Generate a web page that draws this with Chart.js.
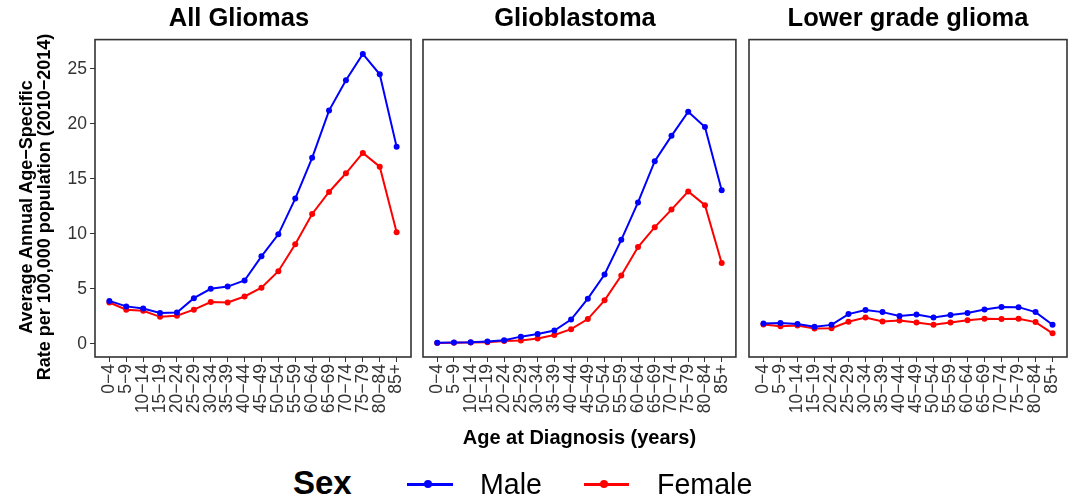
<!DOCTYPE html>
<html>
<head>
<meta charset="utf-8">
<script src="https://cdn.jsdelivr.net/npm/chart.js@4.4.1/dist/chart.umd.min.js"></script>
<style>
  html, body { margin: 0; padding: 0; background: #fff; }
  body { width: 1077px; height: 498px; position: relative; overflow: hidden; font-family: "Liberation Sans", Arial, sans-serif; }
  .pc { position: absolute; top: 0; }
  #ytitle { position: absolute; left: -165px; top: 189px; width: 400px; height: 36px; text-align: center;
            transform: rotate(-90deg); transform-origin: 200px 18px;
            font-weight: bold; font-size: 18px; line-height: 18px; color: #000; white-space: nowrap; }
  .leg { position: absolute; color: #000; white-space: nowrap; }
  .legline { position: absolute; height: 2.5px; }
  .legdot { position: absolute; width: 8px; height: 8px; border-radius: 50%; }
</style>
</head>
<body>
<canvas id="c1" class="pc" style="left:0px" width="420" height="460"></canvas>
<canvas id="c2" class="pc" style="left:405px" width="340" height="460"></canvas>
<canvas id="c3" class="pc" style="left:741px" width="336" height="460"></canvas>
<div id="ytitle">Average Annual Age−Specific<br>Rate per 100,000 population (2010−2014)</div>

<div class="leg" style="left:293px; top:466px; font-size:33px; line-height:33px; font-weight:bold;">Sex</div>
<div class="legline" style="left:407px; top:483px; width:46px; background:#0000ff;"></div>
<div class="legdot" style="left:424px; top:480px; background:#0000ff;"></div>
<div class="leg" style="left:480px; top:470px; font-size:28.6px; line-height:28.6px;">Male</div>
<div class="legline" style="left:584px; top:483px; width:45px; background:#ff0000;"></div>
<div class="legdot" style="left:600px; top:480px; background:#ff0000;"></div>
<div class="leg" style="left:657px; top:470px; font-size:28.6px; line-height:28.6px;">Female</div>

<script>
const ageGroups = ["0−4","5−9","10−14","15−19","20−24","25−29","30−34","35−39","40−44","45−49","50−54","55−59","60−64","65−69","70−74","75−79","80−84","85+"];
const panelTitles = ["All Gliomas", "Glioblastoma", "Lower grade glioma"];
const seriesNames = ["Male", "Female"];
const yTicks = [0, 5, 10, 15, 20, 25];

const maleAll   = [3.9, 3.4, 3.2, 2.8, 2.85, 4.15, 5.0, 5.2, 5.75, 7.95, 9.95, 13.2, 16.9, 21.2, 23.95, 26.35, 24.5, 17.9];
const femaleAll = [3.75, 3.1, 3.0, 2.45, 2.55, 3.1, 3.8, 3.75, 4.3, 5.1, 6.6, 9.05, 11.8, 13.8, 15.5, 17.35, 16.1, 10.15];
const maleGBM   = [0.1, 0.12, 0.15, 0.22, 0.32, 0.65, 0.9, 1.2, 2.2, 4.1, 6.3, 9.45, 12.85, 16.6, 18.9, 21.1, 19.7, 13.95];
const femaleGBM = [0.08, 0.09, 0.12, 0.15, 0.26, 0.3, 0.48, 0.8, 1.33, 2.25, 3.95, 6.2, 8.8, 10.6, 12.2, 13.85, 12.6, 7.35];
const maleLGG   = [1.85, 1.88, 1.8, 1.55, 1.72, 2.7, 3.08, 2.88, 2.52, 2.66, 2.4, 2.62, 2.8, 3.12, 3.35, 3.33, 2.88, 1.73];
const femaleLGG = [1.76, 1.6, 1.67, 1.38, 1.42, 2.0, 2.38, 2.03, 2.12, 1.94, 1.74, 1.94, 2.14, 2.27, 2.25, 2.27, 1.97, 0.95];

Chart.defaults.font.family = '"Liberation Sans", Arial, sans-serif';
Chart.defaults.color = '#333';

const X_MIN = -0.85, X_MAX = 17.85, Y_MIN = -1.2, Y_MAX = 27.65;
const TICK_FONT = 17.5;

const panelBox = {
  id: 'panelBox',
  afterDraw(chart) {
    const {ctx, chartArea: a} = chart;
    ctx.save();
    ctx.strokeStyle = '#333';
    ctx.lineWidth = 1.6;
    ctx.strokeRect(a.left, a.top, a.right - a.left, a.bottom - a.top);
    ctx.restore();
  }
};

function series(vals) { return vals.map((v, i) => ({x: i, y: v})); }

function makePanel(id, title, male, female, o) {
  const yScale = {
    min: Y_MIN, max: Y_MAX,
    afterBuildTicks: s => { s.ticks = yTicks.map(v => ({value: v})); }
  };
  if (o.yMode === 'labels') {
    Object.assign(yScale, {
      ticks: {color: '#333', font: {size: TICK_FONT}, padding: 3},
      grid: {drawOnChartArea: false, drawTicks: true, tickLength: 5, color: '#333', lineWidth: 1},
      border: {display: false},
      afterFit: s => { s.width = o.yWidth; }
    });
  } else if (o.yMode === 'blank') {
    Object.assign(yScale, {
      ticks: {display: false},
      grid: {display: false},
      border: {display: false},
      afterFit: s => { s.width = o.yWidth; }
    });
  } else {
    yScale.display = false;
  }
  const xScale = {
    type: 'linear', min: X_MIN, max: X_MAX,
    afterBuildTicks: s => { s.ticks = ageGroups.map((_, i) => ({value: i})); },
    ticks: {autoSkip: false, minRotation: 90, maxRotation: 90, padding: 2, color: '#333', font: {size: TICK_FONT},
            callback: (v, i) => ageGroups[i]},
    grid: {drawOnChartArea: false, drawTicks: true, tickLength: 5, color: '#333', lineWidth: 1},
    border: {display: false},
    title: o.xTitle ? {display: true, text: o.xTitle, color: '#000', font: {size: 20, weight: 'bold'}, padding: {top: 0, bottom: 10}} : {display: false},
    afterFit: s => { s.height = 103; }
  };
  new Chart(document.getElementById(id), {
    type: 'line',
    data: {
      datasets: [
        {label: seriesNames[0], data: series(male), borderColor: '#0000ff', backgroundColor: '#0000ff',
         borderWidth: 2, pointRadius: 3, pointBorderWidth: 0, tension: 0},
        {label: seriesNames[1], data: series(female), borderColor: '#ff0000', backgroundColor: '#ff0000',
         borderWidth: 2, pointRadius: 3, pointBorderWidth: 0, tension: 0}
      ]
    },
    options: {
      responsive: false, animation: false, devicePixelRatio: 1,
      layout: {padding: o.padding},
      plugins: {
        legend: {display: false}, tooltip: {enabled: false},
        title: {display: true, text: title, color: '#000', font: {size: 25.5, weight: 'bold'}, padding: {top: 4, bottom: 5}}
      },
      scales: {x: xScale, y: yScale}
    },
    plugins: [panelBox]
  });
}

makePanel('c1', panelTitles[0], maleAll, femaleAll, {yMode: 'labels', yWidth: 29, padding: {left: 66, right: 8, top: 0, bottom: 0}});
makePanel('c2', panelTitles[1], maleGBM, femaleGBM, {yMode: 'blank', yWidth: 11, padding: {left: 7, right: 7, top: 0, bottom: 0}, xTitle: 'Age at Diagnosis (years)'});
makePanel('c3', panelTitles[2], maleLGG, femaleLGG, {yMode: 'none', padding: {left: 8, right: 10, top: 0, bottom: 0}});
</script>
</body>
</html>
